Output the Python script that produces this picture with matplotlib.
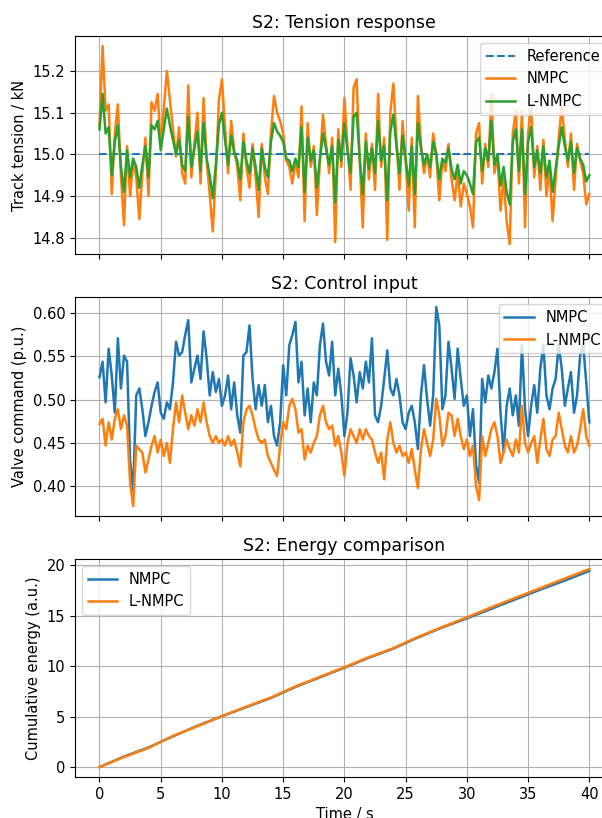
import numpy as np
import matplotlib
matplotlib.use("Agg")
import matplotlib.pyplot as plt

plt.rcParams["font.size"] = 10.5

# time grid of the tension / valve traces (0.25 s steps, 0..40 s)
dt = 0.25
t_ref = 15.0

tension_nmpc = [
    15.07, 15.26, 15.105, 15.12, 14.905, 15.05, 15.12, 14.95, 14.83, 15.02,
    14.90, 14.985, 14.945, 14.845, 14.955, 15.04, 14.90, 15.125, 15.105, 15.145,
    15.02, 15.11, 15.20, 15.13, 15.06, 14.995, 15.065, 14.955, 14.93, 15.165,
    14.945, 15.025, 15.10, 14.93, 15.135, 14.985, 14.905, 14.815, 14.955, 15.13,
    15.18, 15.065, 14.955, 15.08, 15.01, 14.97, 14.89, 15.05, 14.97, 14.92,
    15.025, 14.945, 14.85, 15.025, 14.945, 14.905, 15.05, 15.14, 15.10, 15.08,
    15.05, 14.985, 14.97, 14.93, 14.985, 14.945, 15.115, 14.84, 15.075, 14.97,
    15.02, 14.855, 14.985, 15.095, 15.025, 14.955, 15.04, 14.79, 15.06, 14.97,
    15.135, 15.02, 14.915, 15.16, 15.18, 14.985, 14.825, 15.05, 14.94, 15.025,
    14.915, 15.145, 14.97, 15.04, 14.795, 15.10, 15.17, 15.035, 14.915, 15.08,
    14.985, 14.865, 15.04, 14.825, 15.14, 15.025, 14.955, 15.00, 14.945, 15.05,
    15.00, 14.89, 14.985, 14.96, 15.025, 14.94, 14.89, 14.955, 14.875, 14.93,
    14.905, 14.875, 14.825, 15.05, 15.075, 14.93, 15.025, 14.97, 15.145, 14.955,
    14.995, 14.865, 14.945, 14.84, 14.785, 15.05, 15.105, 14.93, 15.105, 14.825,
    15.05, 15.115, 14.945, 15.02, 14.915, 15.035, 14.90, 14.97, 14.84, 14.94,
    15.04, 15.115, 15.035, 14.97, 15.05, 14.915, 15.025, 14.985, 14.955, 14.88,
    14.905,
]

tension_lnmpc = [
    15.06, 15.145, 15.05, 15.065, 14.95, 15.03, 15.07, 14.97, 14.91, 15.01,
    14.945, 14.99, 14.97, 14.92, 14.975, 15.02, 14.945, 15.07, 15.06, 15.08,
    15.01, 15.06, 15.11, 15.07, 15.035, 15.0, 15.035, 14.975, 14.96, 15.09,
    14.97, 15.015, 15.055, 14.96, 15.075, 14.99, 14.95, 14.895, 14.975, 15.07,
    15.10, 15.035, 14.975, 15.045, 15.005, 14.985, 14.94, 15.03, 14.985, 14.955,
    15.015, 14.97, 14.915, 15.015, 14.97, 14.945, 15.03, 15.075, 15.055, 15.045,
    15.03, 14.99, 14.985, 14.96, 14.99, 14.97, 15.065, 14.91, 15.04, 14.985,
    15.01, 14.92, 14.99, 15.05, 15.015, 14.975, 15.02, 14.885, 15.035, 14.985,
    15.075, 15.01, 14.955, 15.09, 15.10, 14.99, 14.905, 15.03, 14.965, 15.015,
    14.955, 15.08, 14.985, 15.02, 14.89, 15.055, 15.095, 15.02, 14.955, 15.045,
    14.99, 14.925, 15.02, 14.905, 15.075, 15.015, 14.975, 15.0, 14.97, 15.03,
    15.0, 14.94, 14.99, 14.98, 15.015, 14.965, 14.94, 14.975, 14.93, 14.96,
    14.95, 14.93, 14.905, 15.03, 15.04, 14.96, 15.015, 14.985, 15.08, 14.975,
    15.0, 14.925, 14.97, 14.91, 14.88, 15.03, 15.06, 14.96, 15.06, 14.905,
    15.03, 15.065, 14.97, 15.01, 14.955, 15.02, 14.945, 14.985, 14.91, 14.965,
    15.02, 15.065, 15.02, 14.985, 15.03, 14.955, 15.015, 14.99, 14.975, 14.935,
    14.95,
]

valve_nmpc = [
    0.526, 0.544, 0.497, 0.559, 0.528, 0.485, 0.571, 0.513, 0.551, 0.544,
    0.430, 0.395, 0.505, 0.513, 0.489, 0.458, 0.474, 0.493, 0.509, 0.520,
    0.485, 0.478, 0.497, 0.489, 0.520, 0.567, 0.551, 0.555, 0.575, 0.592,
    0.520, 0.536, 0.551, 0.524, 0.579, 0.548, 0.505, 0.532, 0.509, 0.524,
    0.493, 0.505, 0.528, 0.489, 0.520, 0.482, 0.462, 0.551, 0.555, 0.586,
    0.524, 0.489, 0.517, 0.493, 0.517, 0.474, 0.493, 0.458, 0.447, 0.474,
    0.540, 0.505, 0.563, 0.575, 0.590, 0.520, 0.544, 0.482, 0.513, 0.474,
    0.520, 0.505, 0.563, 0.588, 0.544, 0.528, 0.567, 0.505, 0.536, 0.505,
    0.458, 0.485, 0.548, 0.528, 0.497, 0.532, 0.513, 0.544, 0.520, 0.571,
    0.482, 0.474, 0.493, 0.524, 0.557, 0.513, 0.505, 0.524, 0.505, 0.474,
    0.466, 0.485, 0.493, 0.474, 0.443, 0.505, 0.540, 0.501, 0.470, 0.505,
    0.607, 0.586, 0.489, 0.505, 0.567, 0.536, 0.501, 0.559, 0.524, 0.493,
    0.505, 0.458, 0.489, 0.425, 0.404, 0.524, 0.497, 0.528, 0.513, 0.532,
    0.559, 0.485, 0.439, 0.493, 0.513, 0.482, 0.505, 0.470, 0.563, 0.489,
    0.458, 0.493, 0.517, 0.485, 0.536, 0.563, 0.505, 0.489, 0.513, 0.524,
    0.563, 0.536, 0.493, 0.513, 0.532, 0.485, 0.505, 0.551, 0.563, 0.520,
    0.474,
]

valve_lnmpc = [
    0.472, 0.478, 0.447, 0.474, 0.454, 0.478, 0.489, 0.466, 0.482, 0.470,
    0.404, 0.377, 0.447, 0.443, 0.439, 0.416, 0.431, 0.447, 0.458, 0.439,
    0.454, 0.435, 0.450, 0.427, 0.466, 0.497, 0.474, 0.505, 0.485, 0.466,
    0.482, 0.470, 0.489, 0.474, 0.497, 0.474, 0.458, 0.450, 0.458, 0.450,
    0.454, 0.447, 0.458, 0.447, 0.454, 0.439, 0.423, 0.474, 0.489, 0.493,
    0.482, 0.466, 0.454, 0.450, 0.454, 0.435, 0.427, 0.419, 0.412, 0.447,
    0.474, 0.466, 0.493, 0.501, 0.489, 0.462, 0.466, 0.431, 0.447, 0.439,
    0.450, 0.458, 0.482, 0.493, 0.474, 0.466, 0.470, 0.447, 0.458, 0.439,
    0.412, 0.450, 0.466, 0.458, 0.450, 0.466, 0.454, 0.466, 0.458, 0.454,
    0.439, 0.427, 0.439, 0.408, 0.454, 0.474, 0.450, 0.439, 0.447, 0.435,
    0.439, 0.427, 0.443, 0.419, 0.398, 0.443, 0.466, 0.450, 0.435, 0.454,
    0.501, 0.482, 0.447, 0.458, 0.485, 0.482, 0.458, 0.478, 0.458, 0.443,
    0.454, 0.435, 0.447, 0.400, 0.384, 0.458, 0.435, 0.450, 0.466, 0.474,
    0.458, 0.427, 0.439, 0.454, 0.443, 0.435, 0.454, 0.439, 0.493, 0.450,
    0.439, 0.450, 0.458, 0.427, 0.454, 0.478, 0.443, 0.435, 0.454, 0.458,
    0.485, 0.466, 0.447, 0.439, 0.458, 0.439, 0.447, 0.466, 0.489, 0.458,
    0.447,
]

# cumulative energy, read every 2 s
t_energy = list(range(0, 41, 2))
energy_nmpc = [0, 1.05, 1.95, 3.05, 4.1, 5.05, 5.95, 6.85, 7.95, 8.9, 9.85,
               10.85, 11.75, 12.85, 13.85, 14.75, 15.7, 16.65, 17.6, 18.5, 19.45]
energy_lnmpc = [0, 1.0, 1.9, 3.1, 4.05, 5.05, 6.0, 6.9, 8.0, 8.95, 9.9,
                10.9, 11.8, 12.9, 13.9, 14.85, 15.85, 16.8, 17.75, 18.7, 19.65]

t = np.arange(len(tension_nmpc)) * dt
lw = 1.8

fig = plt.figure(figsize=(6.02, 8.18), dpi=100)
ax1 = fig.add_axes([0.1246, 0.6895, 0.895, 0.2665])
ax2 = fig.add_axes([0.1246, 0.369, 0.895, 0.2677], sharex=ax1)
ax3 = fig.add_axes([0.1246, 0.0501, 0.895, 0.2665], sharex=ax1)

ax1.plot(t, np.full_like(t, t_ref), "--", color="C0", lw=1.5, label="Reference")
ax1.plot(t, tension_nmpc, color="C1", lw=lw, label="NMPC")
ax1.plot(t, tension_lnmpc, color="C2", lw=lw, label="L-NMPC")
ax1.set_title("S2: Tension response", fontsize=12.5)
ax1.set_ylabel("Track tension / kN")
ax1.legend(loc="upper right")
ax1.grid(True)
ax1.tick_params(labelbottom=False)

ax2.plot(t, valve_nmpc, color="C0", lw=lw, label="NMPC")
ax2.plot(t, valve_lnmpc, color="C1", lw=lw, label="L-NMPC")
ax2.set_title("S2: Control input", fontsize=12.5)
ax2.set_ylabel("Valve command (p.u.)")
ax2.legend(loc="upper right")
ax2.grid(True)
ax2.tick_params(labelbottom=False)

ax3.plot(t_energy, energy_nmpc, color="C0", lw=lw, label="NMPC")
ax3.plot(t_energy, energy_lnmpc, color="C1", lw=lw, label="L-NMPC")
ax3.set_title("S2: Energy comparison", fontsize=12.5)
ax3.set_ylabel("Cumulative energy (a.u.)")
ax3.set_xlabel("Time / s")
ax3.legend(loc="upper left")
ax3.grid(True)

ax1.set_xticks(range(0, 41, 5))

fig.savefig("out.png", dpi=100)
